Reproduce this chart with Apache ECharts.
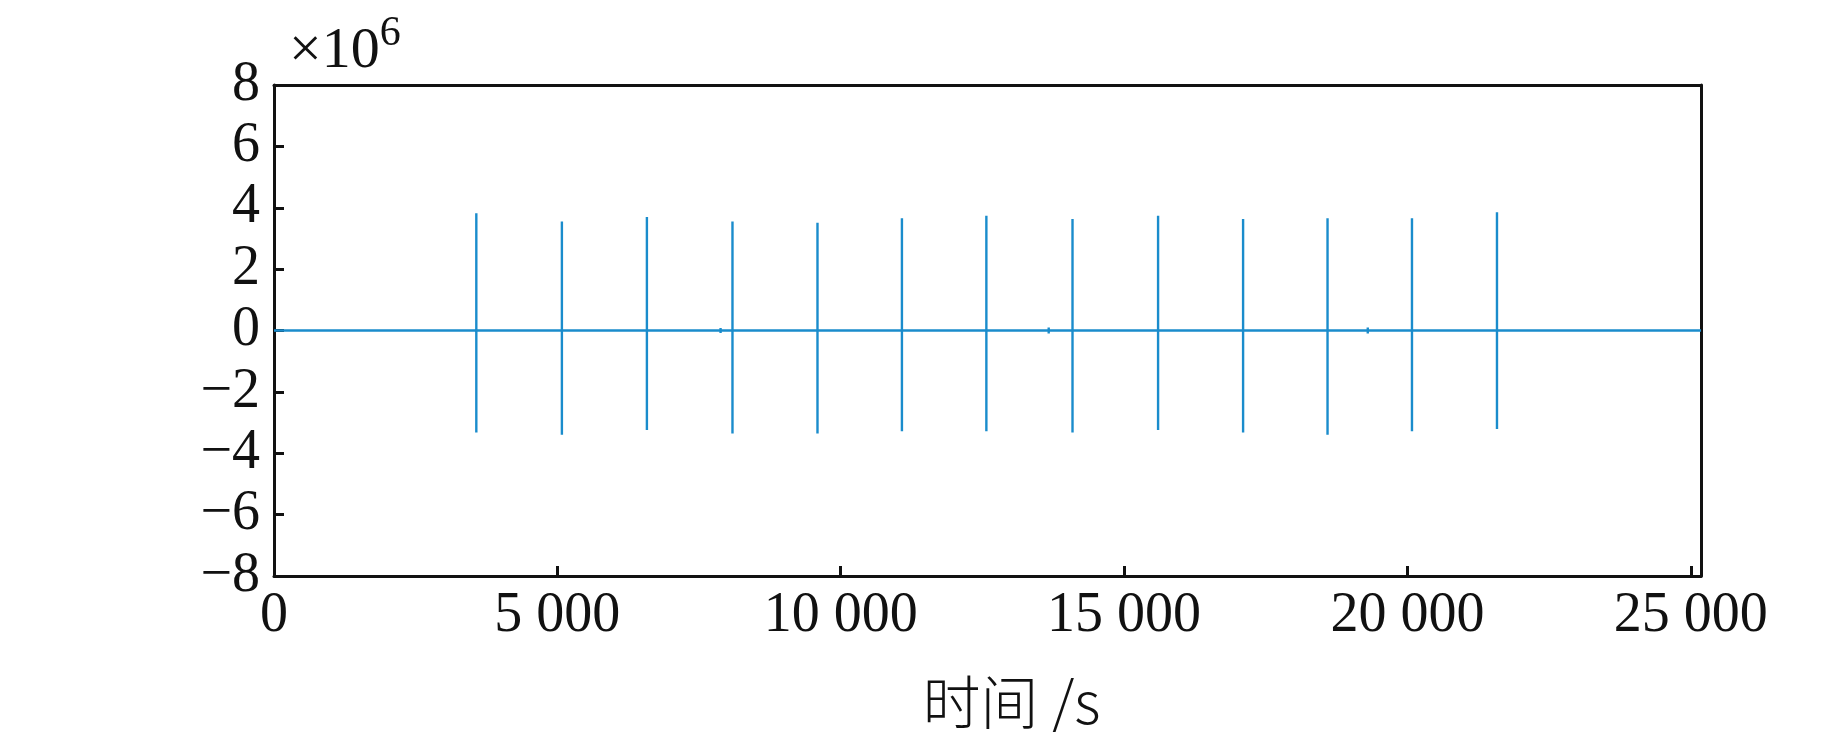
<!DOCTYPE html>
<html>
<head>
<meta charset="utf-8">
<script src="https://cdn.jsdelivr.net/npm/echarts@6/dist/echarts.min.js"></script>
<style>
  html, body { margin: 0; padding: 0; background: #fff; }
  #charts { width: 1843px; height: 732px; }
</style>
</head>
<body>
<div id="charts"></div>
<script>
// 数据 (时间 s, 幅值 ×10^6)
var spikeTimes = [3570, 5080, 6580, 8090, 9590, 11080, 12570, 14090, 15600, 17100, 18590, 20080, 21580];
var spikePeaks = [3.82, 3.55, 3.70, 3.55, 3.51, 3.66, 3.74, 3.63, 3.74, 3.63, 3.66, 3.66, 3.85];
var spikeTroughs = [-3.32, -3.40, -3.24, -3.36, -3.36, -3.28, -3.28, -3.32, -3.24, -3.32, -3.40, -3.28, -3.21];
var blipTimes = [7880, 13670, 19300];
var blipAmps = [0.08, 0.1, 0.1];
var xTicks = [0, 5000, 10000, 15000, 20000, 25000];
var yTicks = [-8, -6, -4, -2, 0, 2, 4, 6, 8];
var tEnd = 25180;

// 把尖峰和小扰动按时间排序后拼成折线
var events = [];
spikeTimes.forEach(function (t, i) { events.push([t, spikePeaks[i], spikeTroughs[i]]); });
blipTimes.forEach(function (t, i) { events.push([t, blipAmps[i], -blipAmps[i]]); });
events.sort(function (a, b) { return a[0] - b[0]; });

var lineData = [[0, 0]];
events.forEach(function (e) {
  lineData.push([e[0], 0]);
  lineData.push([e[0], e[1] * 1e6]);
  lineData.push([e[0], e[2] * 1e6]);
  lineData.push([e[0], 0]);
});
lineData.push([tEnd, 0]);

var serif = '"Liberation Serif", "Times New Roman", serif';
var frame = { show: true, onZero: false, lineStyle: { color: '#111', width: 3 } };
var myChart = echarts.init(document.getElementById('charts'));
var option = {
  animation: false,
  backgroundColor: '#fff',
  grid: { left: 274, right: 142, top: 85, bottom: 156, outerBoundsMode: 'none', containLabel: false },
  title: {
    left: 284, top: 8,
    text: '{a|×10}{b|6}',
    textStyle: {
      rich: {
        a: { fontFamily: serif, fontSize: 58, fontWeight: 'normal', color: '#111', verticalAlign: 'bottom' },
        b: { fontFamily: serif, fontSize: 42, fontWeight: 'normal', color: '#111', verticalAlign: 'top', padding: [0, 0, 26, 0] }
      }
    }
  },
  xAxis: [{
    type: 'value', min: 0, max: tEnd, interval: 5000,
    name: '时间 /s', nameLocation: 'middle', nameGap: 94,
    nameTextStyle: { fontFamily: '"Noto Sans CJK SC", serif', fontSize: 58, color: '#111', fontWeight: 300, lineHeight: 64, padding: [0, 0, 0, 48] },
    axisLine: frame,
    axisTick: { inside: true, length: 10, lineStyle: { color: '#111', width: 3 } },
    axisLabel: {
      margin: 12, fontFamily: serif, fontSize: 56, color: '#111', showMaxLabel: true,
      formatter: function (v) {
        if (xTicks.indexOf(v) < 0) return '';
        return String(v).replace(/\B(?=(\d{3})+(?!\d))/g, ' ');
      }
    },
    splitLine: { show: false }
  }, {
    type: 'value', position: 'top', min: 0, max: tEnd,
    axisLine: frame,
    axisTick: { show: false }, axisLabel: { show: false }, splitLine: { show: false }
  }],
  yAxis: [{
    type: 'value', min: -8e6, max: 8e6, interval: 2e6,
    axisLine: frame,
    axisTick: { inside: true, length: 10, lineStyle: { color: '#111', width: 3 } },
    axisLabel: {
      margin: 14, fontFamily: serif, fontSize: 56, color: '#111',
      formatter: function (v) {
        var n = Math.round(v / 1e6);
        if (yTicks.indexOf(n) < 0) return '';
        return n < 0 ? '\u2212' + (-n) : String(n);
      }
    },
    splitLine: { show: false }
  }, {
    type: 'value', position: 'right', min: -8e6, max: 8e6,
    axisLine: frame,
    axisTick: { show: false }, axisLabel: { show: false }, splitLine: { show: false }
  }],
  series: [{
    type: 'line',
    data: lineData,
    showSymbol: false,
    lineStyle: { color: '#1a8ccc', width: 2.4 }
  }]
};
myChart.setOption(option);
window.addEventListener('resize', function () {
  myChart.resize();
});
</script>
</body>
</html>
